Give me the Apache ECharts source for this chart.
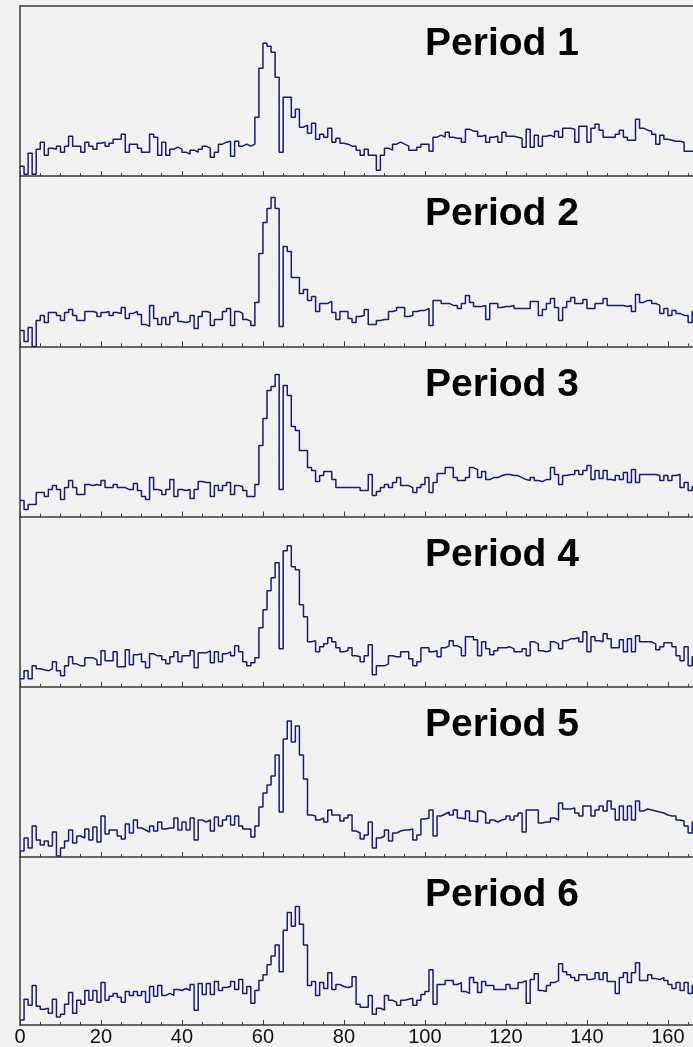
<!DOCTYPE html>
<html>
<head>
<meta charset="utf-8">
<script src="https://cdn.jsdelivr.net/npm/echarts@6.0.0/dist/echarts.min.js"></script>
<style>
  html, body { margin: 0; padding: 0; background: #f2f2f2; }
  #chart { width: 693px; height: 1047px; }
</style>
</head>
<body>
<div id="chart"></div>
<script>
// counts per 1-unit bin, starting at x = 0
const period1 = [10,2,23,2,27,34,21,28,27,30,24,30,40,30,30,24,34,30,27,33,34,30,33,37,37,42,24,32,32,28,24,24,42,39,21,34,21,27,29,27,24,22,26,24,27,30,28,19,24,32,34,35,20,35,30,32,30,32,59,108,133,130,124,99,24,79,79,59,67,49,51,43,53,37,42,39,48,34,38,33,32,30,30,26,21,27,21,21,6,21,28,26,32,34,32,30,26,26,29,32,32,25,39,41,39,44,39,38,38,34,47,45,45,40,41,34,39,40,34,44,40,40,39,38,29,47,29,41,30,40,41,39,45,39,48,48,47,34,50,50,34,48,52,46,39,39,39,42,46,39,36,36,57,48,46,45,42,32,41,37,36,35,35,34,25,25,25];
const period2 = [16,5,19,0,26,31,24,34,34,31,26,34,37,31,26,26,35,35,34,30,34,35,31,34,33,39,28,33,35,32,22,20,41,28,22,29,22,30,34,25,24,25,31,18,30,35,34,21,27,27,35,38,21,35,33,27,25,21,44,93,124,138,149,138,20,100,95,69,69,53,57,46,50,35,43,43,45,34,27,35,35,28,24,30,31,37,22,22,26,27,27,35,36,39,39,30,31,35,36,36,38,21,46,46,43,43,41,41,38,43,51,44,40,40,41,27,43,43,39,40,40,41,38,38,38,38,45,45,31,37,43,48,39,26,39,45,49,43,43,47,38,38,43,43,48,41,41,41,41,40,41,35,52,44,46,46,43,41,33,38,31,36,33,31,31,24,35];
const period3 = [16,7,12,12,24,24,20,27,31,27,17,29,36,29,22,22,32,31,32,31,36,29,29,32,29,29,27,27,33,26,20,17,39,27,26,22,27,37,20,27,26,27,18,27,35,34,34,20,31,26,31,34,22,31,30,26,20,20,32,71,98,126,130,142,27,131,121,90,86,66,66,49,46,35,41,45,45,37,29,29,29,29,29,29,26,26,42,21,25,29,32,29,34,39,31,31,29,24,29,32,39,24,34,43,43,49,49,39,36,36,39,49,47,39,45,37,39,39,41,42,42,41,41,39,37,36,39,36,35,37,37,49,42,32,41,42,42,46,42,46,51,37,46,38,46,37,36,41,37,44,34,47,34,42,42,42,42,41,36,41,36,41,42,29,34,26,30];
const period4 = [8,16,8,21,18,17,16,18,25,16,11,21,30,23,21,21,29,29,27,22,36,26,26,35,20,20,37,22,32,33,25,19,33,31,31,27,23,30,35,25,31,31,36,19,34,34,36,24,35,25,33,35,31,41,35,25,21,24,29,59,77,96,109,124,38,136,141,120,117,82,70,45,46,35,40,43,49,45,39,35,36,39,31,30,25,31,42,12,21,21,23,31,30,30,35,35,28,21,25,39,39,35,36,30,39,41,46,41,39,31,50,50,47,31,45,38,32,36,39,39,40,38,35,35,38,31,45,43,36,35,36,45,43,38,46,48,48,49,45,55,35,50,46,45,53,48,39,39,47,35,48,35,51,45,45,45,43,37,40,44,44,40,31,26,40,21,30];
const period5 = [6,19,9,31,17,12,16,11,25,1,9,16,27,14,21,19,28,17,30,15,41,23,27,27,21,18,33,24,37,29,27,25,31,26,35,28,29,29,39,27,35,27,39,17,37,35,37,26,40,31,37,41,32,41,31,28,28,20,31,50,64,72,81,102,45,118,136,115,131,102,78,42,41,37,39,35,47,42,42,36,39,42,26,24,18,22,35,9,19,21,27,16,24,26,27,27,28,17,22,38,39,47,21,41,43,45,42,47,39,38,46,36,35,46,44,34,37,35,37,38,41,37,41,44,25,47,47,47,34,35,35,39,37,54,48,48,49,44,41,51,51,41,47,51,46,56,48,37,51,37,51,37,56,46,48,47,46,45,44,42,41,41,37,36,31,24,35];
const period6 = [5,26,20,40,19,16,17,12,26,8,11,21,33,12,25,21,35,25,35,23,43,25,29,32,28,23,34,30,34,30,34,23,39,29,40,30,32,30,36,35,37,35,41,15,42,31,42,31,44,35,38,39,44,36,46,32,39,22,35,45,51,61,70,81,54,96,114,100,120,102,81,40,44,30,43,37,53,36,41,39,38,39,49,21,18,18,30,11,17,15,30,25,23,20,25,26,27,20,25,31,34,56,21,41,41,45,45,41,43,34,32,48,43,33,44,40,40,36,36,36,41,37,37,43,45,22,46,52,35,34,40,43,45,62,54,51,48,45,51,51,46,47,53,46,53,44,44,32,48,53,43,53,63,45,45,51,47,46,48,45,41,37,43,35,43,32,40];

const periods = [period1, period2, period3, period4, period5, period6];
const titles = ['Period 1', 'Period 2', 'Period 3', 'Period 4', 'Period 5', 'Period 6'];
const xTicks = [0, 20, 40, 60, 80, 100, 120, 140, 160];

const binWidth = 1;
const xMax = 166.2;
const yMax = 170.2;
const panelTop = 6;
const panelH = 170.2;
const frameColor = '#3a3a3a';

const grids = [], xAxes = [], yAxes = [], series = [], title = [];

periods.forEach((vals, i) => {
    grids.push({ left: 20, right: 0, top: panelTop + panelH * i, height: panelH, containLabel: false });
    xAxes.push({
        gridIndex: i, type: 'value', min: 0, max: xMax, interval: 20,
        axisLine: { lineStyle: { color: frameColor, width: 1.5 } },
        axisTick: { inside: true, length: 5, lineStyle: { color: frameColor } },
        minorTick: { show: true, splitNumber: 4, length: 3, lineStyle: { color: frameColor } },
        splitLine: { show: false },
        axisLabel: {
            show: i === periods.length - 1, margin: 2, fontSize: 20,
            fontFamily: 'Liberation Sans', color: '#111',
            showMaxLabel: false,
            formatter: v => (xTicks.indexOf(v) >= 0 ? String(v) : '')
        }
    });
    yAxes.push({
        gridIndex: i, type: 'value', min: 0, max: yMax,
        axisLine: { show: true, lineStyle: { color: frameColor, width: 1.5 } },
        axisTick: { show: false }, axisLabel: { show: false }, splitLine: { show: false }
    });
    // step histogram: each bin drawn flat from its low edge to the next
    const data = vals.map((v, k) => [k * binWidth, v]);
    data.push([vals.length * binWidth, vals[vals.length - 1]]);
    series.push({
        type: 'line', xAxisIndex: i, yAxisIndex: i, step: 'end',
        symbol: 'none', data: data,
        lineStyle: { color: '#1a1a78', width: 1.5 }
    });
    title.push({
        text: titles[i], left: 425, top: 25 + panelH * i, padding: 0,
        textStyle: { fontSize: 39, fontWeight: 'bold', fontFamily: 'Liberation Sans', color: '#000' }
    });
});

// top frame line of the first pad
xAxes.push({
    gridIndex: 0, type: 'value', min: 0, max: xMax, position: 'top',
    axisLine: { lineStyle: { color: frameColor, width: 1.5 } },
    axisTick: { show: false }, axisLabel: { show: false }, splitLine: { show: false }
});

const chart = echarts.init(document.getElementById('chart'), null, { renderer: 'canvas' });
chart.setOption({
    backgroundColor: '#f2f2f2',
    animation: false,
    title: title,
    grid: grids,
    xAxis: xAxes,
    yAxis: yAxes,
    series: series
});
</script>
</body>
</html>
